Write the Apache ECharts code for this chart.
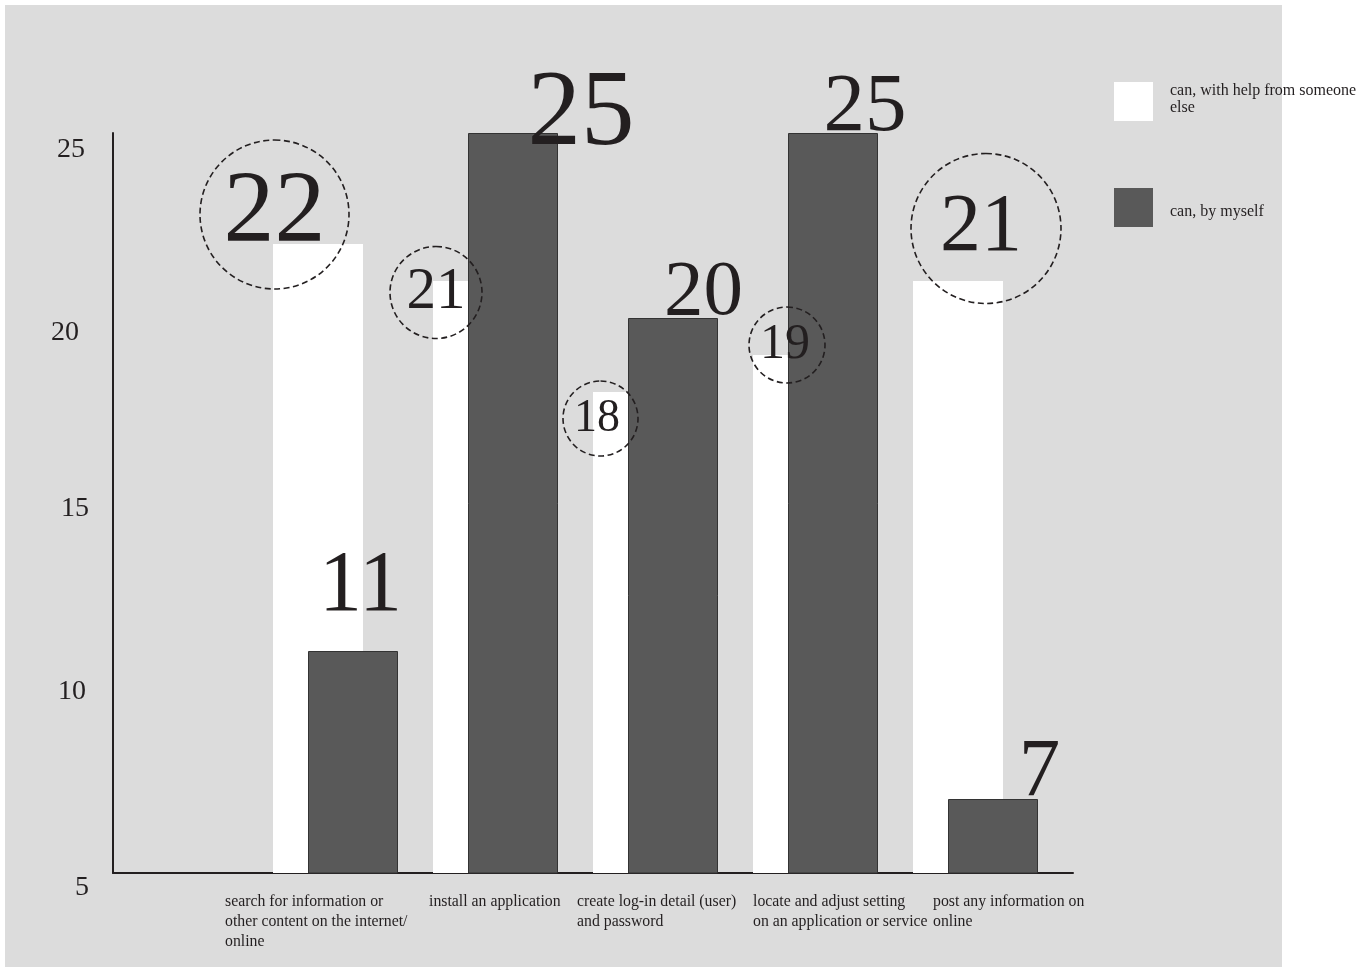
<!DOCTYPE html>
<html>
<head>
<meta charset="utf-8">
<script src="https://cdn.jsdelivr.net/npm/echarts@6/dist/echarts.min.js"></script>
<style>
  html, body { margin: 0; padding: 0; background: #ffffff; }
  #chart { width: 1367px; height: 967px; }
</style>
</head>
<body>
<div id="chart"></div>
<script>
// ---- data ----
const categories = [
  'search for information or\nother content on the internet/\nonline',
  'install an application',
  'create log-in detail (user)\nand password',
  'locate and adjust setting\non an application or service',
  'post any information on\nonline'
];
const seriesNames = ['can, with help from someone else', 'can, by myself'];
const withHelp = [22, 21, 18, 19, 21];
const byMyself = [11, 25, 20, 25, 7];
const yTicks = [5, 10, 15, 20, 25];

// ---- styling ----
const INK = '#231f20';
const SERIF = '"Liberation Serif", "Times New Roman", serif';
const LIGHT = '#ffffff';
const DARK = '#595959';

// value label placement: anchor offset from the bar's top-left corner, font size,
// ring diameter and the text's nudge inside the ring (sx right, sy down)
const helpLabelLayout = [
  { dx: 1.5, dy: -29.5, size: 102, ring: 149, sx: 0,    sy: 6.5 },
  { dx: 3,   dy: 11.5,  size: 59,  ring: 92,  sx: 0,    sy: 4.8 },
  { dx: 7.5, dy: 26.5,  size: 46,  ring: 75,  sx: -3.5, sy: -2.2 },
  { dx: 34,  dy: -10,   size: 50,  ring: 76,  sx: -2,   sy: 1.6 },
  { dx: 73,  dy: -52.5, size: 82,  ring: 150, sx: -5,   sy: 4.8 }
];
const selfLabelLayout = [
  { dx: 52.5, dy: -63.7, size: 86 },
  { dx: 113,  dy: -17,   size: 107 },
  { dx: 75.5, dy: -24.7, size: 79 },
  { dx: 77,   dy: -24.9, size: 83 },
  { dx: 91.5, dy: -25.9, size: 83 }
];

// hand-set nudges of the y tick labels: [shift down, shift left]
const yLabelNudge = { 5: [15, 0], 10: [4, 3], 15: [6, 0], 20: [15, 10], 25: [16.5, 4] };
// width of the box each category label hangs from (text starts at its left edge)
const xLabelHang = [0, 128, 84, 96, 80, 60];

function labelFor(layout) {
  const lab = {
    show: true,
    position: [layout.dx, layout.dy],
    align: 'center',
    verticalAlign: 'middle',
    fontFamily: SERIF,
    fontSize: layout.size,
    color: INK,
    lineHeight: layout.size
  };
  if (layout.ring) {
    const sx = layout.sx || 0;
    const sy = layout.sy || 0;
    Object.assign(lab, {
      width: layout.ring - 2 * Math.abs(sx),
      lineHeight: layout.ring - 2 * Math.abs(sy),
      padding: [
        sy > 0 ? 2 * sy : 0,
        sx < 0 ? -2 * sx : 0,
        sy < 0 ? -2 * sy : 0,
        sx > 0 ? 2 * sx : 0
      ],
      borderColor: INK,
      borderWidth: 1.6,
      borderType: [6, 3.5],
      borderRadius: layout.ring / 2
    });
  }
  return lab;
}

// the first category slot is left empty
function buildItems(values, layouts) {
  return ['-'].concat(values.map((v, i) => ({ value: v, label: labelFor(layouts[i]) })));
}

function wrapWords(text, maxChars) {
  const words = text.split(' ');
  const lines = [];
  let cur = '';
  words.forEach(w => {
    const next = cur ? cur + ' ' + w : w;
    if (next.length > maxChars && cur) { lines.push(cur); cur = w; }
    else cur = next;
  });
  if (cur) lines.push(cur);
  return lines;
}

const yRich = {};
yTicks.forEach(t => {
  const n = yLabelNudge[t] || [0, 0];
  yRich['y' + t] = {
    fontFamily: SERIF, fontSize: 28, color: INK,
    padding: [n[0] * 2, n[1], 0, 0]
  };
});

const xRich = {};
xLabelHang.forEach((w, i) => {
  xRich['x' + i] = {
    fontFamily: SERIF, fontSize: 15.8, color: INK, lineHeight: 20,
    width: w, align: 'left', overflow: 'none'
  };
});

// legend entries: wrapped entries sit a little high, single-line ones a little low
function legendText(name) {
  const lines = wrapWords(name, 27);
  const style = lines.length > 1 ? 'multi' : 'single';
  return lines.map(l => '{' + style + '|' + l + '}').join('\n');
}

const chart = echarts.init(document.getElementById('chart'), null, { renderer: 'canvas' });

chart.setOption({
  animation: false,
  backgroundColor: 'transparent',
  graphic: [{
    type: 'rect', left: 5, top: 5, z: -100, silent: true,
    shape: { width: 1277, height: 962 },
    style: { fill: '#dcdcdc' }
  }],
  legend: {
    orient: 'vertical',
    left: 1114,
    top: 82,
    padding: 0,
    itemWidth: 39,
    itemHeight: 39,
    itemGap: 67,
    icon: 'rect',
    selectedMode: false,
    itemStyle: { borderWidth: 0 },
    formatter: legendText,
    textStyle: {
      fontFamily: SERIF, fontSize: 16, color: INK,
      padding: [0, 0, 0, 12],
      rich: {
        multi: { fontFamily: SERIF, fontSize: 16, color: INK, lineHeight: 17, padding: [0, 0, 4, 0] },
        single: { fontFamily: SERIF, fontSize: 16, color: INK, lineHeight: 18, padding: [8, 0, 0, 0] }
      }
    },
    data: seriesNames
  },
  grid: { left: 113, top: 133, width: 960, height: 740, containLabel: false },
  xAxis: {
    type: 'category',
    data: [''].concat(categories),
    boundaryGap: true,
    axisLine: { show: true, onZero: false, lineStyle: { color: INK, width: 2 } },
    axisTick: { show: false },
    splitLine: { show: false },
    axisLabel: {
      interval: 0,
      margin: 19,
      align: 'right',
      verticalAlign: 'top',
      fontFamily: SERIF,
      fontSize: 15.8,
      lineHeight: 20,
      color: INK,
      formatter: (value, index) => {
        if (!value) return '';
        return value.split('\n').map(line => '{x' + index + '|' + line + '}').join('\n');
      },
      rich: xRich
    }
  },
  yAxis: {
    type: 'value',
    min: yTicks[0],
    max: yTicks[yTicks.length - 1],
    interval: yTicks[1] - yTicks[0],
    axisLine: { show: true, lineStyle: { color: INK, width: 2 } },
    axisTick: { show: false },
    splitLine: { show: false },
    axisLabel: {
      margin: 24,
      fontFamily: SERIF,
      fontSize: 28,
      color: INK,
      formatter: v => '{y' + v + '|' + v + '}',
      rich: yRich
    }
  },
  series: [
    {
      name: seriesNames[0],
      type: 'bar',
      barWidth: 90,
      barGap: '-61.11%',
      itemStyle: { color: LIGHT },
      data: buildItems(withHelp, helpLabelLayout)
    },
    {
      name: seriesNames[1],
      type: 'bar',
      barWidth: 90,
      barGap: '-61.11%',
      itemStyle: { color: DARK, borderColor: '#333333', borderWidth: 1 },
      data: buildItems(byMyself, selfLabelLayout)
    },
    {
      // empty slot that keeps each pair anchored to the left edge of its band
      name: 'spacer',
      type: 'bar',
      barWidth: 90,
      barGap: '-61.11%',
      silent: true,
      itemStyle: { color: 'transparent' },
      data: []
    }
  ]
});
</script>
</body>
</html>
